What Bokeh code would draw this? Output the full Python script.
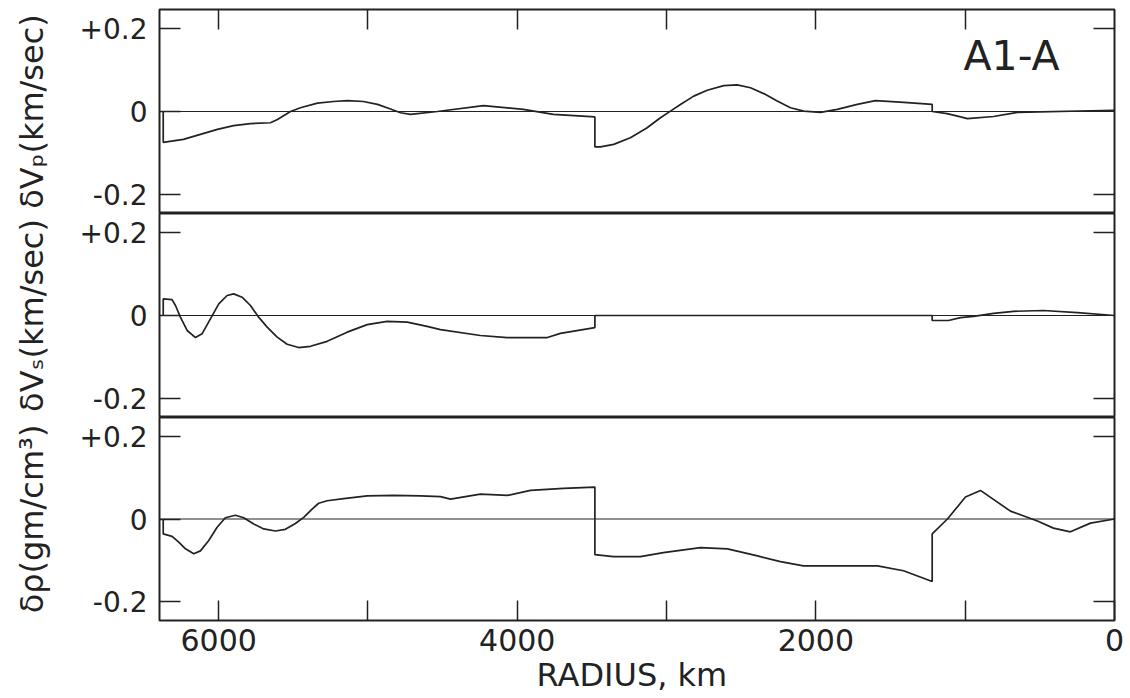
from bokeh.plotting import figure
from bokeh.models import Range1d, FixedTicker, LinearAxis, Span, Label, CustomLabelingPolicy
from bokeh.layouts import column
from bokeh.embed import file_html
from bokeh.resources import INLINE

# ---- data (radius in km, perturbation) ----
vp_r = [6371, 6371, 6236, 6122, 6008, 5900, 5787, 5653, 5606, 5519, 5452, 5338, 5231, 5137, 5030, 4936, 4849, 4782,
        4715, 4535, 4226, 3959, 3758, 3480, 3480, 3443, 3354, 3242, 3130, 3041, 2974, 2907, 2818, 2728, 2617, 2527,
        2438, 2349, 2259, 2170, 2081, 1969, 1857, 1723, 1601, 1411, 1221, 1221, 1121, 1031, 985, 810, 650, 0]
vp = [0, -0.074, -0.067, -0.055, -0.043, -0.034, -0.029, -0.027, -0.019, 0, 0.009, 0.020, 0.024, 0.026, 0.024, 0.017, 0.006, -0.003,
      -0.007, 0, 0.014, 0.005, -0.007, -0.013, -0.085, -0.085, -0.079, -0.063, -0.039, -0.015, 0.001, 0.017, 0.037, 0.051, 0.062, 0.064,
      0.057, 0.043, 0.025, 0.009, 0.001, -0.002, 0.005, 0.017, 0.026, 0.022, 0.017, 0, -0.005, -0.013, -0.017, -0.012, -0.002, 0.003]

vs_r = [6371, 6371, 6312, 6289, 6256, 6211, 6155, 6111, 6055, 5999, 5943, 5899, 5843, 5787, 5732, 5675, 5608, 5541,
        5464, 5385, 5273, 5139, 5005, 4871, 4737, 4604, 4514, 4247, 4066, 3798, 3711, 3480, 3480, 1221, 1221, 1112,
        1031, 944, 810, 676, 476, 248, 0]
vs = [0, 0.040, 0.038, 0.024, -0.004, -0.036, -0.053, -0.044, -0.008, 0.028, 0.048, 0.052, 0.044, 0.024, -0.004, -0.028, -0.052, -0.069,
      -0.077, -0.074, -0.062, -0.040, -0.022, -0.014, -0.016, -0.026, -0.034, -0.048, -0.053, -0.053, -0.043, -0.029, 0, 0, -0.012, -0.012,
      -0.005, -0.002, 0.005, 0.010, 0.012, 0.007, 0]

rho_r = [6371, 6371, 6312, 6267, 6222, 6167, 6122, 6066, 6010, 5955, 5888, 5832, 5765, 5698, 5620, 5553, 5486, 5430,
         5374, 5330, 5273, 5162, 5005, 4827, 4648, 4514, 4447, 4247, 4066, 3912, 3691, 3480, 3480, 3356, 3175, 3021,
         2773, 2592, 2391, 2237, 2083, 1587, 1413, 1221, 1221, 1119, 998, 898, 697, 516, 409, 295, 161, 0]
rho = [0, -0.036, -0.042, -0.056, -0.072, -0.084, -0.077, -0.052, -0.020, 0.003, 0.009, 0.003, -0.012, -0.024, -0.029, -0.025, -0.011, 0.004,
       0.024, 0.038, 0.044, 0.049, 0.056, 0.057, 0.056, 0.054, 0.048, 0.060, 0.057, 0.069, 0.074, 0.077, -0.086, -0.091, -0.091, -0.081,
       -0.069, -0.072, -0.089, -0.103, -0.113, -0.113, -0.125, -0.151, -0.036, 0, 0.053, 0.069, 0.019, -0.005, -0.022, -0.031, -0.010, 0]

radius_ticks = [0, 1000, 2000, 3000, 4000, 5000, 6000]
radius_labels = {0: "0", 2000: "2000", 4000: "4000", 6000: "6000"}
y_ticks = [-0.2, 0, 0.2]
y_labels = {-0.2: "-0.2", 0: "0", 0.2: "+0.2"}
y_titles = ["δVₚ(km/sec)", "δVₛ(km/sec)", "δρ(gm/cm³)"]
x_title = "RADIUS,  km"
model_name = "A1-A"

INK = "#222222"
FONT = "DejaVu Sans"

xr = Range1d(start=6396, end=0)

NO_LABELS = "for (const i of indices) indices.unset(i)\nreturn indices"
EVEN_LABELS = "for (const i of indices) if (i % 2 == 1) indices.unset(i)\nreturn indices"


def tick_axis(ticks, tick_len):
    return LinearAxis(ticker=FixedTicker(ticks=ticks), major_label_policy=CustomLabelingPolicy(code=NO_LABELS),
                      major_label_text_font_size="1px",
                      major_tick_in=tick_len, major_tick_out=0, minor_tick_in=0, minor_tick_out=0,
                      axis_line_color=None, major_tick_line_color=INK, major_tick_line_width=1.5,
                      major_label_standoff=0)


def make_panel(r, v, title, frame_h, top=0, bottom=0, top_axis=False, bottom_axis=False):
    p = figure(frame_width=955, frame_height=frame_h, x_range=xr, y_range=Range1d(-0.245, 0.245),
               output_backend="svg", toolbar_location=None, x_axis_location=None, y_axis_location=None,
               min_border_left=159, min_border_right=16, min_border_top=top, min_border_bottom=bottom,
               background_fill_color="white", border_fill_color="white")
    p.grid.visible = False
    p.outline_line_color = INK
    p.outline_line_width = 2
    p.outline_line_alpha = 1

    ly = LinearAxis(ticker=FixedTicker(ticks=y_ticks), major_label_overrides=y_labels,
                    major_tick_in=21, major_tick_out=0, minor_tick_in=0, minor_tick_out=0,
                    axis_line_color=None, major_tick_line_color=INK, major_tick_line_width=1.5,
                    major_label_standoff=12, major_label_text_font=FONT, major_label_text_font_size="28px",
                    major_label_text_color=INK,
                    axis_label=title, axis_label_text_font=FONT, axis_label_text_font_size="32px",
                    axis_label_text_font_style="normal", axis_label_text_color=INK, axis_label_standoff=26)
    p.add_layout(ly, "left")
    p.add_layout(tick_axis([-0.2, 0.2], 21), "right")
    if top_axis:
        p.add_layout(tick_axis(radius_ticks[1:], 20), "above")
    if bottom_axis:
        bx = LinearAxis(ticker=FixedTicker(ticks=radius_ticks), major_label_overrides=radius_labels,
                        major_label_policy=CustomLabelingPolicy(code=EVEN_LABELS),
                        major_tick_in=20, major_tick_out=0, minor_tick_in=0, minor_tick_out=0,
                        axis_line_color=None, major_tick_line_color=INK, major_tick_line_width=1.5,
                        major_label_standoff=8, major_label_text_font=FONT, major_label_text_font_size="30px",
                        major_label_text_color=INK,
                        axis_label=x_title, axis_label_text_font=FONT, axis_label_text_font_size="32px",
                        axis_label_text_font_style="normal", axis_label_text_color=INK, axis_label_standoff=2)
        p.add_layout(bx, "below")

    p.add_layout(Span(location=0, dimension="width", line_color=INK, line_width=1.2))
    p.line(r, v, line_color=INK, line_width=1.7)
    return p


p1 = make_panel(vp_r, vp, y_titles[0], 204, top=9, top_axis=True)
p1.add_layout(Label(x=1011, y=0.133, text=model_name, text_font=FONT, text_font_size="41px",
                    text_color=INK, text_align="left", text_baseline="middle"))
p2 = make_panel(vs_r, vs, y_titles[1], 204)
p3 = make_panel(rho_r, rho, y_titles[2], 203, bottom=78, bottom_axis=True)

layout = column(p1, p2, p3, spacing=0)
open("out.html", "w").write(file_html(layout, INLINE))
